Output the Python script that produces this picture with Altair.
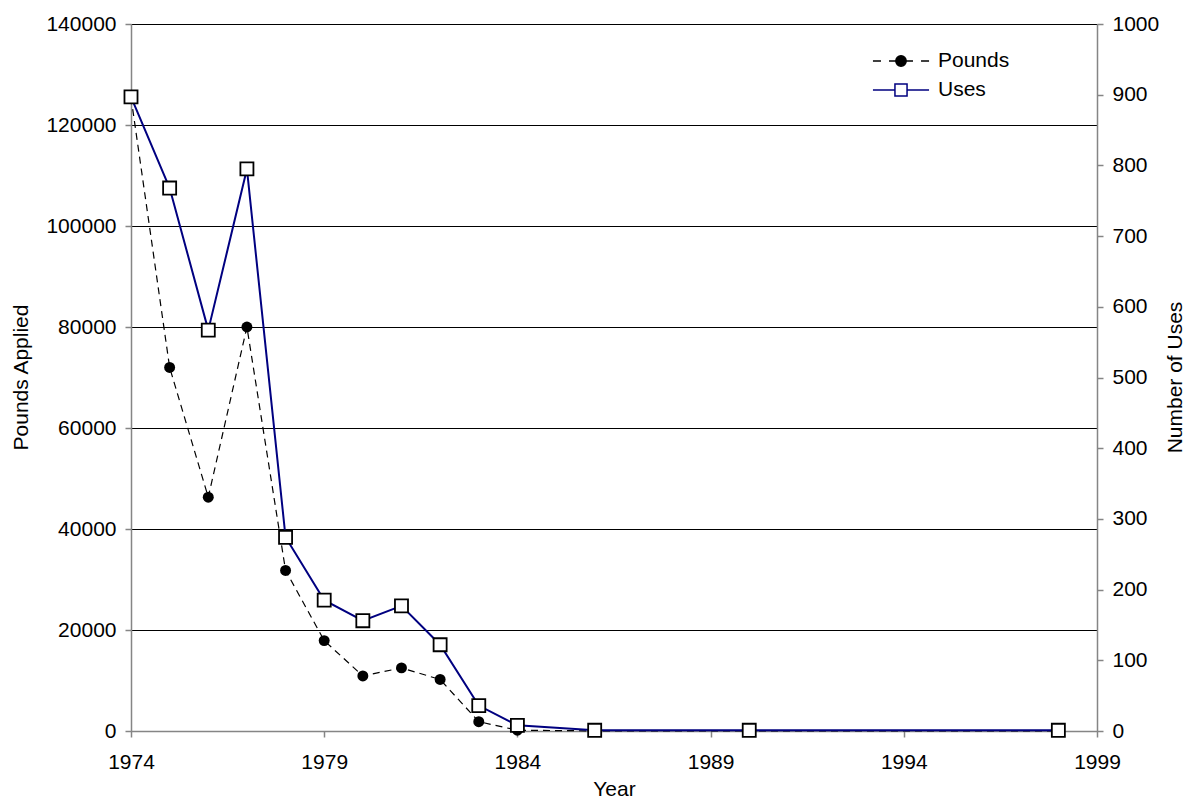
import altair as alt
import pandas as pd

years = [1974, 1975, 1976, 1977, 1978, 1979, 1980, 1981, 1982, 1983, 1984, 1986, 1990, 1998]
pounds = [125500, 72000, 46300, 80000, 31800, 17900, 10900, 12500, 10200, 1850, 150, 20, 10, 5]
uses = [897, 768, 567, 795, 274, 185, 156, 177, 122, 36, 8, 1, 1, 1]
series_names = ["Pounds", "Uses"]
x_ticks = [1974, 1979, 1984, 1989, 1994, 1999]
left_ticks = [0, 20000, 40000, 60000, 80000, 100000, 120000, 140000]
right_ticks = [0, 100, 200, 300, 400, 500, 600, 700, 800, 900, 1000]

df = pd.DataFrame({"year": years, "pounds": pounds, "uses": uses})
legend_df = pd.DataFrame({"series": series_names, "year": [years[0]] * 2, "uses": [uses[0]] * 2})

FONT = "Liberation Sans"
FS = 21
AXIS_GRAY = "#858585"

pounds_path = ("M-2.55,0H-1.82M-1.09,0H-0.27M0.27,0H1.09M1.82,0H2.55"
               "M-0.47,0A0.47,0.47,0,1,0,0.47,0A0.47,0.47,0,1,0,-0.47,0Z")
uses_path = "M-2.55,0H-0.55M0.55,0H2.55M-0.55,-0.55H0.55V0.55H-0.55Z"

x_enc = alt.X(
    "year:Q",
    scale=alt.Scale(domain=[1974, 1999], nice=False, zero=False),
    axis=alt.Axis(
        values=x_ticks, format="d", title="Year", grid=False, labelFlush=False,
        domainColor=AXIS_GRAY, domainWidth=1.5, tickColor=AXIS_GRAY, tickWidth=1.5,
        tickSize=6, labelPadding=14, labelFontSize=FS, labelFont=FONT, labelColor="black",
        titleFontSize=FS, titleFont=FONT, titleFontWeight="normal", titleColor="black",
        titleX=483, titleY=58, titleBaseline="middle", titleAlign="center",
    ),
)

y_left = alt.Y(
    "pounds:Q",
    scale=alt.Scale(domain=[0, 140000], nice=False),
    axis=alt.Axis(
        orient="left", values=left_ticks, format="d", title="Pounds Applied",
        grid=True,
        gridColor={"condition": {"test": "datum.value === 0", "value": AXIS_GRAY}, "value": "black"},
        gridWidth=1,
        domainColor=AXIS_GRAY, domainWidth=1.5, tickColor=AXIS_GRAY, tickWidth=1.5,
        tickSize=6, labelPadding=9, labelFontSize=FS, labelFont=FONT, labelColor="black",
        titleFontSize=FS, titleFont=FONT, titleFontWeight="normal", titleColor="black",
        titleAngle=-90, titleX=-110, titleY=353, titleBaseline="middle", titleAlign="center",
    ),
)

y_right = alt.Y(
    "uses:Q",
    scale=alt.Scale(domain=[0, 1000], nice=False),
    axis=alt.Axis(
        orient="right", values=right_ticks, format="d", title="Number of Uses",
        grid=False,
        domainColor=AXIS_GRAY, domainWidth=1.5, tickColor=AXIS_GRAY, tickWidth=1.5,
        tickSize=6, labelPadding=9, labelFontSize=FS, labelFont=FONT, labelColor="black",
        titleFontSize=FS, titleFont=FONT, titleFontWeight="normal", titleColor="black",
        titleAngle=-90, titleX=78, titleY=353, titleBaseline="middle", titleAlign="center",
    ),
)

base = alt.Chart(df)

pounds_line = base.mark_line(color="black", strokeWidth=1.2, strokeDash=[7, 5]).encode(x=x_enc, y=y_left)
pounds_pts = base.mark_point(filled=True, color="black", size=120, opacity=1).encode(x=x_enc, y=y_left)

uses_line = base.mark_line(color="#000080", strokeWidth=2).encode(x=x_enc, y=y_right)
uses_pts = base.mark_point(shape="square", filled=True, fill="white", stroke="black",
                           strokeWidth=1.8, size=170, opacity=1).encode(x=x_enc, y=y_right)

legend_spec = alt.Legend(
    title=None, orient="none", legendX=758, legendY=25, padding=0,
    labelFont=FONT, labelFontSize=FS, labelColor="black", labelOffset=25,
    rowPadding=7, symbolSize=484, symbolStrokeWidth=1.5,
)

legend_layer = alt.Chart(legend_df).transform_filter("false").mark_point(
    filled=True, opacity=1, strokeWidth=1.5
).encode(
    x=x_enc,
    y=y_right,
    shape=alt.Shape("series:N", scale=alt.Scale(domain=series_names, range=[pounds_path, uses_path]),
                    legend=legend_spec),
    fill=alt.Fill("series:N", scale=alt.Scale(domain=series_names, range=["black", "white"]),
                  legend=legend_spec),
    stroke=alt.Stroke("series:N", scale=alt.Scale(domain=series_names, range=["black", "#000080"]),
                      legend=legend_spec),
)

left = alt.layer(pounds_line, pounds_pts)
right = alt.layer(uses_line, uses_pts, legend_layer)

chart = alt.layer(left, right).resolve_scale(y="independent").properties(
    width=966, height=707,
    autosize=alt.AutoSizeParams(type="none"),
    padding={"left": 123, "top": 16, "right": 90, "bottom": 67},
).configure_view(stroke=None).configure(background="white")

chart.save("out.html", embed_options={"renderer": "svg", "actions": False})
